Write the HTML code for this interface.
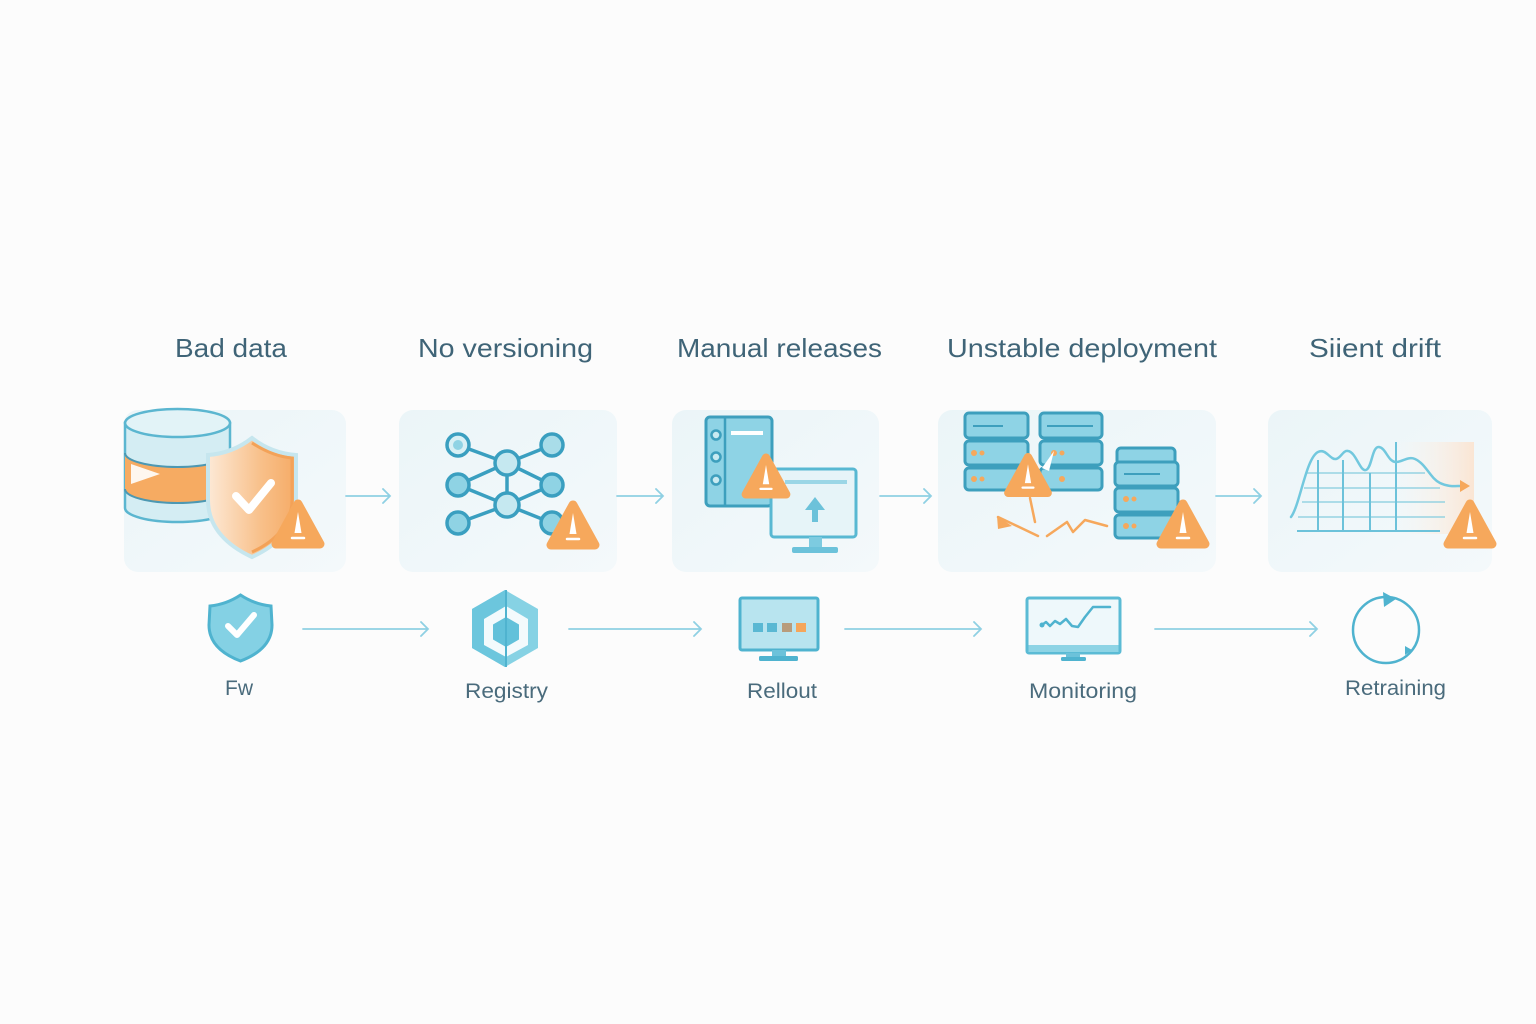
<!DOCTYPE html>
<html>
<head>
<meta charset="utf-8">
<style>
  html,body{margin:0;padding:0;background:#fcfcfc;}
  svg{display:block;}
  .t{font-family:"Liberation Sans",sans-serif;font-size:26px;fill:#3f6477;}
  .l{font-family:"Liberation Sans",sans-serif;font-size:21px;fill:#4a6b7c;}
</style>
</head>
<body>
<svg width="1536" height="1024" viewBox="0 0 1536 1024" xmlns="http://www.w3.org/2000/svg">
  <defs>
    <linearGradient id="pg" x1="0" y1="0" x2="1" y2="1">
      <stop offset="0" stop-color="#ebf5f8"/>
      <stop offset="1" stop-color="#f4f9fb"/>
    </linearGradient>
    <linearGradient id="sh" x1="0" y1="0" x2="1" y2="0">
      <stop offset="0" stop-color="#fde9d6"/>
      <stop offset="0.6" stop-color="#f8c08a"/>
      <stop offset="1" stop-color="#f5ab66"/>
    </linearGradient>
    <linearGradient id="og" x1="0" y1="0" x2="1" y2="0">
      <stop offset="0" stop-color="#fdf3ea" stop-opacity="0"/>
      <stop offset="1" stop-color="#fbe3cf" stop-opacity="0.9"/>
    </linearGradient>
    <g id="warn">
      <polygon points="0,-20 -22,20 22,20" fill="#f6a85c" stroke="#f6a85c" stroke-width="9" stroke-linejoin="round"/>
      <path d="M0,-12 L3.5,9 L-3.5,9 Z" fill="#fff"/>
      <path d="M-6,14 L6,14" stroke="#fff" stroke-width="2.5" stroke-linecap="round"/>
    </g>
  </defs>

  <rect width="1536" height="1024" fill="#fcfcfc"/>

  <!-- Titles -->
  <text class="t" x="175" y="357" textLength="112" lengthAdjust="spacingAndGlyphs">Bad data</text>
  <text class="t" x="418" y="357" textLength="175" lengthAdjust="spacingAndGlyphs">No versioning</text>
  <text class="t" x="677" y="357" textLength="205" lengthAdjust="spacingAndGlyphs">Manual releases</text>
  <text class="t" x="947" y="357" textLength="270" lengthAdjust="spacingAndGlyphs">Unstable deployment</text>
  <text class="t" x="1309" y="357" textLength="132" lengthAdjust="spacingAndGlyphs">Siient drift</text>

  <!-- Panels -->
  <rect x="124" y="410" width="222" height="162" rx="14" fill="url(#pg)"/>
  <rect x="399" y="410" width="218" height="162" rx="14" fill="url(#pg)"/>
  <rect x="672" y="410" width="207" height="162" rx="14" fill="url(#pg)"/>
  <rect x="938" y="410" width="278" height="162" rx="14" fill="url(#pg)"/>
  <rect x="1268" y="410" width="224" height="162" rx="14" fill="url(#pg)"/>

  <!-- Row 1 arrows -->
  <g stroke="#8fd0e3" stroke-width="1.8" fill="none" stroke-linecap="round">
    <path d="M346,496 H390 M383,489 L390,496 L383,503"/>
    <path d="M617,496 H663 M656,489 L663,496 L656,503"/>
    <path d="M880,496 H931 M924,489 L931,496 L924,503"/>
    <path d="M1216,496 H1261 M1254,489 L1261,496 L1254,503"/>
  </g>

  <!-- Panel 1: database + shield -->
  <path d="M125,423 L125,508 A52.5,14 0 0 0 230,508 L230,423 Z" fill="#d4edf3" stroke="#5bb6d0" stroke-width="2.5"/>
  <path d="M125,453 A52.5,14 0 0 0 230,453 L230,489 A52.5,14 0 0 1 125,489 Z" fill="#f6ab62"/>
  <path d="M125,453 A52.5,14 0 0 0 230,453 M125,489 A52.5,14 0 0 0 230,489" fill="none" stroke="#4d98b2" stroke-width="2"/>
  <path d="M131,464 L160,474 L131,484 Z" fill="#fff" opacity="0.9"/>
  <ellipse cx="177.5" cy="423" rx="52.5" ry="14" fill="#e2f3f7" stroke="#5bb6d0" stroke-width="2.5"/>
  <path d="M252,438 C238,449 222,454 208,455 L208,500 C208,528 228,546 252,557 C276,546 296,528 296,500 L296,455 C282,454 266,449 252,438 Z" fill="url(#sh)" stroke="#c6e6ee" stroke-width="4"/>
  <path d="M252,443 C266,452 280,457 292,458 L292,500 C292,525 274,542 252,552" fill="none" stroke="#f3a258" stroke-width="3"/>
  <polyline points="236,496 249,510 271,483" fill="none" stroke="#fff" stroke-width="8" stroke-linecap="round" stroke-linejoin="round"/>
  <use href="#warn" x="298" y="524"/>

  <!-- Panel 2: network -->
  <g stroke="#3a9fc0" stroke-width="3.5">
    <line x1="458" y1="445" x2="507" y2="463"/>
    <line x1="458" y1="485" x2="507" y2="463"/>
    <line x1="458" y1="485" x2="507" y2="505"/>
    <line x1="458" y1="523" x2="507" y2="505"/>
    <line x1="507" y1="463" x2="507" y2="505"/>
    <line x1="507" y1="463" x2="552" y2="445"/>
    <line x1="507" y1="463" x2="552" y2="485"/>
    <line x1="507" y1="505" x2="552" y2="485"/>
    <line x1="507" y1="505" x2="552" y2="523"/>
  </g>
  <g stroke="#3a9fc0" stroke-width="3.5">
    <circle cx="458" cy="445" r="11" fill="#d8f0f5"/>
    <circle cx="458" cy="485" r="11" fill="#8fd3e4"/>
    <circle cx="458" cy="523" r="11" fill="#8fd3e4"/>
    <circle cx="507" cy="463" r="12" fill="#c5e8f0"/>
    <circle cx="507" cy="505" r="12" fill="#c5e8f0"/>
    <circle cx="552" cy="445" r="11" fill="#a9dde9"/>
    <circle cx="552" cy="485" r="11" fill="#8fd3e4"/>
    <circle cx="552" cy="523" r="11" fill="#8fd3e4"/>
  </g>
  <circle cx="458" cy="445" r="5" fill="#8fd3e4"/>
  <use href="#warn" x="573" y="525"/>

  <!-- Panel 3: server + monitor -->
  <rect x="706" y="417" width="66" height="89" rx="4" fill="#8ed3e5" stroke="#3d9fbd" stroke-width="3"/>
  <line x1="725" y1="418" x2="725" y2="505" stroke="#3d9fbd" stroke-width="2.5"/>
  <g fill="#c8eaf1" stroke="#3d9fbd" stroke-width="2.5">
    <circle cx="716" cy="435" r="4.5"/>
    <circle cx="716" cy="457" r="4.5"/>
    <circle cx="716" cy="480" r="4.5"/>
  </g>
  <rect x="731" y="431" width="32" height="4" fill="#fff"/>
  <rect x="771" y="469" width="85" height="68" rx="3" fill="#e6f4f8" stroke="#58b8d2" stroke-width="3"/>
  <rect x="785" y="480" width="62" height="4" fill="#9ad6e6"/>
  <path d="M815,497 L805,510 L812,510 L812,522 L818,522 L818,510 L825,510 Z" fill="#6cc2da"/>
  <rect x="809" y="537" width="13" height="11" fill="#7dcbe0"/>
  <rect x="792" y="547" width="46" height="6" rx="2" fill="#6cc2da"/>
  <use href="#warn" x="766" y="476" transform="translate(766,476) scale(0.92) translate(-766,-476)"/>

  <!-- Panel 4: servers -->
  <g fill="#8ed3e5" stroke="#3d9fbd" stroke-width="3">
    <rect x="965" y="413" width="63" height="25" rx="4"/>
    <rect x="965" y="441" width="63" height="24" rx="4"/>
    <rect x="965" y="468" width="63" height="22" rx="4"/>
    <rect x="1040" y="413" width="62" height="25" rx="4"/>
    <rect x="1040" y="441" width="62" height="24" rx="4"/>
    <rect x="1040" y="468" width="62" height="22" rx="4"/>
    <rect x="1117" y="448" width="58" height="16" rx="4"/>
    <rect x="1115" y="462" width="63" height="24" rx="4"/>
    <rect x="1115" y="488" width="63" height="24" rx="4"/>
    <rect x="1115" y="515" width="63" height="23" rx="4"/>
  </g>
  <g stroke="#3d9fbd" stroke-width="2">
    <line x1="973" y1="426" x2="1003" y2="426"/>
    <line x1="1047" y1="426" x2="1093" y2="426"/>
    <line x1="1124" y1="474" x2="1160" y2="474"/>
  </g>
  <g fill="#f6a85c">
    <circle cx="974" cy="453" r="3"/><circle cx="982" cy="453" r="2.5"/>
    <circle cx="974" cy="479" r="3"/><circle cx="982" cy="479" r="2.5"/>
    <circle cx="1054" cy="453" r="3"/><circle cx="1062" cy="453" r="2.5"/>
    <circle cx="1062" cy="479" r="3"/>
    <circle cx="1126" cy="499" r="3"/><circle cx="1134" cy="499" r="2.5"/>
    <circle cx="1126" cy="526" r="3"/><circle cx="1134" cy="526" r="2.5"/>
  </g>
  <polygon points="1042,468 1054,451 1049,471" fill="#fff"/>
  <g stroke="#f6a85c" stroke-width="2.5" fill="none" stroke-linecap="round" stroke-linejoin="round">
    <line x1="1030" y1="498" x2="1035" y2="522"/>
    <path d="M998,517 L1038,536"/>
    <path d="M1047,536 L1067,522 L1073,532 L1085,520 L1107,526"/>
  </g>
  <polygon points="997,516 1012,526 998,529" fill="#f6a85c"/>
  <use href="#warn" transform="translate(1028,475) scale(0.9)"/>
  <use href="#warn" x="1183" y="524"/>

  <!-- Panel 5: chart -->
  <rect x="1397" y="442" width="77" height="92" fill="url(#og)"/>
  <g stroke="#8ccfe0" stroke-width="1.5" opacity="0.9">
    <line x1="1307" y1="473" x2="1425" y2="473"/>
    <line x1="1304" y1="488" x2="1440" y2="488"/>
    <line x1="1302" y1="502" x2="1445" y2="502"/>
    <line x1="1298" y1="517" x2="1445" y2="517"/>
  </g>
  <g stroke="#6cc2da" stroke-width="2">
    <line x1="1318" y1="460" x2="1318" y2="531"/>
    <line x1="1343" y1="460" x2="1343" y2="531"/>
    <line x1="1370" y1="473" x2="1370" y2="531"/>
    <line x1="1396" y1="442" x2="1396" y2="531"/>
    <line x1="1297" y1="531" x2="1440" y2="531"/>
  </g>
  <path d="M1291,517 C1300,505 1306,458 1318,452 C1326,448 1330,460 1336,459 C1341,458 1343,450 1348,451 C1356,452 1360,472 1366,470 C1372,468 1372,446 1379,447 C1386,448 1388,462 1396,462 C1402,462 1408,456 1415,459 C1426,464 1430,478 1440,483 C1448,487 1455,486 1461,486" fill="none" stroke="#72c8de" stroke-width="2.5" stroke-linecap="round"/>
  <polygon points="1460,480 1470,486 1460,492" fill="#f6a85c"/>
  <use href="#warn" x="1470" y="524"/>

  <!-- Row 2 -->
  <path d="M240.5,595 C230,602 220,605 210,606 L209,625 C209,643 222,654 240.5,661 C259,654 272,643 272,625 L271,606 C261,605 251,602 240.5,595 Z" fill="#84d1e4" stroke="#4fb3cf" stroke-width="3"/>
  <polyline points="228,626 237,635 254,615" fill="none" stroke="#fff" stroke-width="6" stroke-linecap="round" stroke-linejoin="round"/>

  <g stroke="#8fd0e3" stroke-width="1.8" fill="none" stroke-linecap="round">
    <path d="M303,629 H428 M421,622 L428,629 L421,636"/>
    <path d="M569,629 H701 M694,622 L701,629 L694,636"/>
    <path d="M845,629 H981 M974,622 L981,629 L974,636"/>
    <path d="M1155,629 H1317 M1310,622 L1317,629 L1310,636"/>
  </g>

  <!-- Registry hex -->
  <polygon points="505,590 538,609 538,648 505,667 472,648 472,609" fill="#86d2e4"/>
  <polygon points="505,590 472,609 472,648 505,667" fill="#6cc6dd"/>
  <polygon points="506,606 528,619 528,645 506,657 484,645 484,619" fill="#f3fafc"/>
  <polygon points="506,617 519,624.5 519,639.5 506,647 493,639.5 493,624.5" fill="#62c1da"/>
  <line x1="506" y1="590" x2="506" y2="667" stroke="#4fb3cf" stroke-width="2"/>

  <!-- Rellout monitor -->
  <rect x="740" y="598" width="78" height="52" rx="2" fill="#b8e4ef" stroke="#4fb3cf" stroke-width="3"/>
  <rect x="753" y="623" width="10" height="9" fill="#5ab8d3"/>
  <rect x="767" y="623" width="10" height="9" fill="#5ab8d3"/>
  <rect x="782" y="623" width="10" height="9" fill="#b89c7c"/>
  <rect x="796" y="623" width="10" height="9" fill="#f5a65b"/>
  <rect x="772" y="650" width="14" height="7" fill="#6cc2da"/>
  <rect x="759" y="656" width="39" height="5" rx="1.5" fill="#4fb3cf"/>

  <!-- Monitoring monitor -->
  <rect x="1027" y="598" width="93" height="55" rx="2" fill="#eef8fb" stroke="#5bbbd5" stroke-width="3"/>
  <rect x="1028.5" y="645" width="90" height="7" fill="#8dd4e5"/>
  <polyline points="1042,625 1046,622 1050,626 1055,621 1060,624 1066,619 1072,626 1078,627 1085,617 1093,607 1110,607" fill="none" stroke="#4fb3cf" stroke-width="2.5" stroke-linecap="round" stroke-linejoin="round"/>
  <circle cx="1042" cy="625" r="2.5" fill="#4fb3cf"/>
  <rect x="1066" y="653" width="14" height="5" fill="#6cc2da"/>
  <rect x="1061" y="657" width="25" height="4" rx="1.5" fill="#4fb3cf"/>

  <!-- Retraining circle -->
  <circle cx="1386" cy="630" r="33" fill="none" stroke="#4fb3cf" stroke-width="2.5"/>
  <polygon points="1383,592 1396,599 1384,607" fill="#4fb3cf"/>
  <polygon points="1405,646 1412,650 1405,655" fill="#4fb3cf"/>

  <!-- Row 2 labels -->
  <text class="l" x="225" y="695" textLength="28" lengthAdjust="spacingAndGlyphs">Fw</text>
  <text class="l" x="465" y="698" textLength="83" lengthAdjust="spacingAndGlyphs">Registry</text>
  <text class="l" x="747" y="698" textLength="70" lengthAdjust="spacingAndGlyphs">Rellout</text>
  <text class="l" x="1029" y="698" textLength="108" lengthAdjust="spacingAndGlyphs">Monitoring</text>
  <text class="l" x="1345" y="695" textLength="101" lengthAdjust="spacingAndGlyphs">Retraining</text>
</svg>
</body>
</html>
